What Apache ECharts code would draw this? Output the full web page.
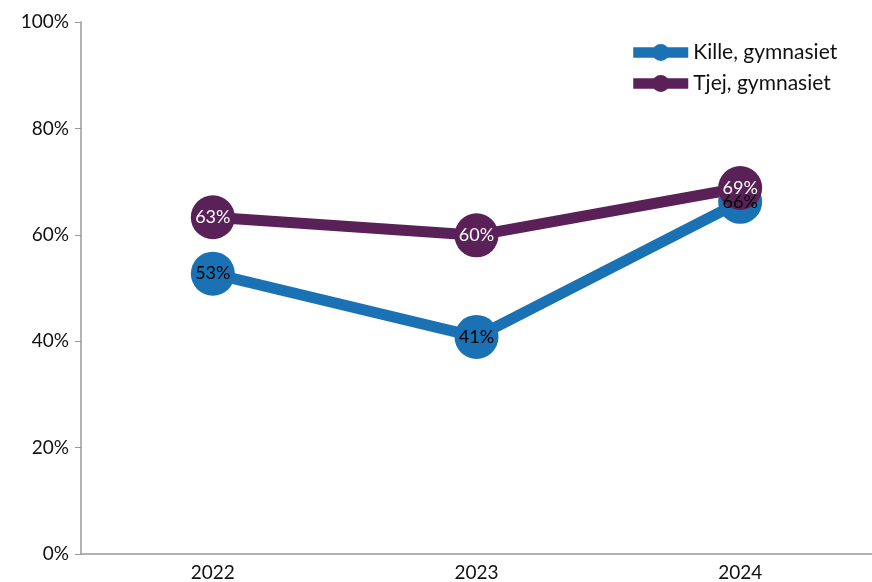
<!DOCTYPE html>
<html><head><meta charset="utf-8">
<script src="https://cdn.jsdelivr.net/npm/echarts@6/dist/echarts.min.js"></script>
<style>html,body{margin:0;padding:0;background:#fff}#c{width:872px;height:582px}</style>
</head><body><div id="c"></div>
<script>
const categories = ['2022', '2023', '2024'];
const killeValues = [52.7, 40.8, 66.2];
const tjejValues = [63.3, 59.9, 68.8];
const yTicks = [0, 20, 40, 60, 80, 100];
const seriesNames = ['Kille, gymnasiet', 'Tjej, gymnasiet'];
const FONT = 'Lato';

const chart = echarts.init(document.getElementById('c'));
chart.setOption({
  animation: false,
  textStyle: { fontFamily: FONT },
  grid: { left: 81, top: 22, width: 797, bottom: 27, containLabel: false },
  legend: {
    left: 628, top: 42, padding: 0, orient: 'vertical', itemWidth: 55, itemHeight: 21, itemGap: 10, itemTextGap: 14,
    lineStyle: { width: 10.5 },
    textStyle: { fontSize: 21, color: '#111', fontFamily: FONT },
    data: seriesNames
  },
  xAxis: {
    type: 'category', data: categories, boundaryGap: true,
    axisLine: { lineStyle: { color: '#999', width: 1.5 } },
    axisTick: { alignWithLabel: true, length: 6, lineStyle: { color: '#999' } },
    axisLabel: { fontSize: 19, color: '#111', margin: 9, fontFamily: FONT }
  },
  yAxis: {
    type: 'value', min: yTicks[0], max: yTicks[yTicks.length - 1], interval: 20,
    axisLine: { show: true, lineStyle: { color: '#999', width: 1.5 } },
    axisTick: { show: true, length: 6, lineStyle: { color: '#999' } },
    splitLine: { show: false },
    axisLabel: { fontSize: 19, color: '#111', margin: 12, formatter: v => v + '%', fontFamily: FONT }
  },
  series: [
    {
      name: seriesNames[0], type: 'line', data: killeValues,
      symbol: 'circle', symbolSize: 44,
      lineStyle: { width: 11, color: '#1a72b5' }, itemStyle: { color: '#1a72b5' },
      label: { show: true, position: 'inside', color: '#000', fontSize: 18, fontFamily: FONT,
        formatter: p => Math.round(p.value) + '%' }
    },
    {
      name: seriesNames[1], type: 'line', data: tjejValues,
      symbol: 'circle', symbolSize: 44,
      lineStyle: { width: 11, color: '#5a2159' }, itemStyle: { color: '#5a2159' },
      label: { show: true, position: 'inside', color: '#fff', fontSize: 18, fontFamily: FONT,
        formatter: p => Math.round(p.value) + '%' }
    }
  ]
});
</script></body></html>
